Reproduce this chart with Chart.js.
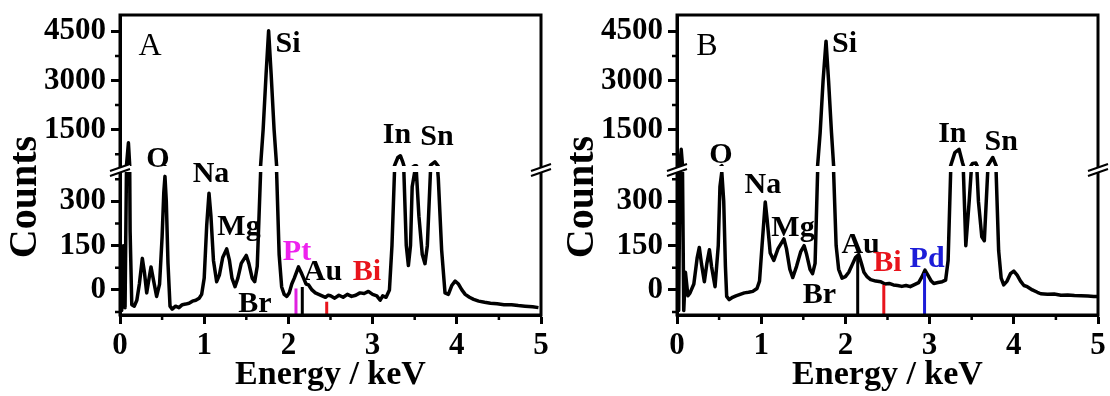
<!DOCTYPE html>
<html>
<head>
<meta charset="utf-8">
<script src="https://cdn.jsdelivr.net/npm/chart.js@4/dist/chart.umd.min.js"></script>
<style>
  html, body { margin: 0; padding: 0; background: #fff; overflow: hidden; }
  .panel { position: absolute; top: 0; width: 555px; height: 396px; }
  #panelA { left: 0; }
  #panelB { left: 557px; }
</style>
</head>
<body>
<div class="panel" id="panelA"><canvas id="canvasA"></canvas></div>
<div class="panel" id="panelB"><canvas id="canvasB"></canvas></div>
<script>
// spectrum A (keV, counts)
const energyA = [0.00,0.02,0.04,0.06,0.08,0.10,0.12,0.14,0.17,0.20,0.23,0.265,0.29,0.317,0.34,0.368,0.40,0.435,0.47,0.50,
  0.52,0.534,0.55,0.57,0.594,0.62,0.66,0.70,0.74,0.78,0.82,0.86,0.90,0.94,0.97,1.00,1.03,1.057,1.08,1.11,
  1.148,1.18,1.22,1.267,1.30,1.33,1.366,1.40,1.44,1.50,1.53,1.57,1.60,1.63,1.67,1.70,1.735,1.765,1.795,1.83,
  1.86,1.89,1.92,1.95,1.98,2.01,2.04,2.07,2.12,2.15,2.18,2.21,2.24,2.28,2.32,2.36,2.40,2.44,2.47,2.50,
  2.55,2.60,2.65,2.70,2.75,2.80,2.85,2.90,2.95,3.00,3.05,3.09,3.12,3.16,3.20,3.23,3.26,3.30,3.33,3.36,
  3.40,3.425,3.45,3.47,3.50,3.52,3.55,3.59,3.622,3.65,3.69,3.74,3.78,3.82,3.86,3.90,3.94,3.98,4.02,4.06,
  4.10,4.15,4.20,4.26,4.33,4.40,4.48,4.56,4.65,4.73,4.81,4.90,4.97];
const countsA = [60,-70,150,-60,500,1100,200,-50,-55,-35,20,107,60,-10,30,78,30,-22,20,180,
  330,385,300,90,-55,-65,-55,-60,-50,-48,-45,-38,-35,-28,-15,40,220,328,250,100,
  28,50,110,139,100,40,11,40,90,117,90,40,28,80,400,1500,3200,4520,3200,1500,
  400,120,10,-15,-22,-10,20,40,78,60,40,20,17,0,-10,-15,-20,-25,-18,-20,
  -28,-18,-25,-15,-22,-18,-10,-12,-5,-15,-20,-35,-20,-25,0,150,400,650,705,500,
  150,83,150,350,400,400,250,120,89,150,420,520,380,135,-10,-15,15,30,20,0,
  -15,-25,-32,-38,-42,-45,-47,-50,-50,-53,-55,-57,-60];

// spectrum B (keV, counts)
const energyB = [0.00,0.02,0.05,0.08,0.10,0.13,0.155,0.20,0.24,0.265,0.29,0.325,0.355,0.385,0.41,0.452,0.49,0.51,0.532,0.555,
  0.575,0.59,0.62,0.66,0.70,0.75,0.80,0.85,0.90,0.95,0.98,1.01,1.048,1.07,1.107,1.15,1.20,1.27,1.30,1.34,
  1.375,1.42,1.47,1.51,1.54,1.58,1.61,1.64,1.67,1.70,1.735,1.77,1.80,1.835,1.86,1.89,1.92,1.96,2.00,2.04,
  2.08,2.12,2.158,2.19,2.22,2.26,2.30,2.36,2.42,2.47,2.52,2.57,2.62,2.67,2.72,2.77,2.82,2.87,2.91,2.945,
  2.98,3.02,3.05,3.10,3.15,3.19,3.22,3.25,3.30,3.35,3.39,3.43,3.47,3.51,3.55,3.58,3.62,3.65,3.69,3.75,
  3.79,3.82,3.85,3.88,3.92,3.96,4.00,4.04,4.08,4.12,4.16,4.22,4.28,4.32,4.40,4.48,4.56,4.64,4.72,4.80,
  4.88,4.95,5.00];
const countsB = [150,-70,900,-70,60,-20,-10,20,110,144,90,28,90,136,80,11,150,350,400,300,
  80,-22,-33,-25,-20,-15,-10,-8,-5,5,30,150,298,240,125,100,140,173,140,70,
  42,80,130,150,120,70,55,90,400,1400,3000,4200,3000,1400,400,150,70,40,45,60,
  85,110,120,90,60,44,35,30,28,20,22,17,15,12,15,11,18,25,45,67,
  50,30,22,25,28,33,100,400,800,900,500,150,300,470,480,300,180,167,400,650,
  400,133,40,17,30,55,64,50,30,15,11,0,-8,-13,-15,-14,-18,-17,-19,-20,
  -21,-22,-22];

// axis ticks
const xTicks = [0, 1, 2, 3, 4, 5];
const xMinor = [0.5, 1.5, 2.5, 3.5, 4.5];
const lowTicks = [0, 150, 300];
const lowMinor = [-75, 75, 225, 375];
const highTicks = [1500, 3000, 4500];
const highMinor = [750, 2250, 3750];

// reference lines (keV, top in counts)
const markerEnergyA = [2.09, 2.165, 2.455];
const markerTopA = [5, 10, -40];
const markerColorA = ['#e020e0', '#000000', '#e8141c'];
const markerEnergyB = [2.146, 2.456, 2.94];
const markerTopB = [117, 17, 57];
const markerColorB = ['#000000', '#e8141c', '#1c1cd8'];

// element labels (text, keV, counts, axis, colour)
const labelTextA = ['Si', 'O', 'Na', 'Mg', 'Br', 'Pt', 'Au', 'Bi', 'In', 'Sn'];
const labelEnergyA = [1.995, 0.451, 1.081, 1.413, 1.603, 2.102, 2.411, 2.933, 3.29, 3.765];
const labelCountsA = [3870, 362, 366, 186, -75, 102, 34, 34, 1094, 1033];
const labelAxisA = ['yHigh', 'yHigh', 'yLow', 'yLow', 'yLow', 'yLow', 'yLow', 'yLow', 'yHigh', 'yHigh'];
const labelColorA = ['#000', '#000', '#000', '#000', '#000', '#ee22ee', '#000', '#e8141c', '#000', '#000'];

const labelTextB = ['Si', 'O', 'Na', 'Mg', 'Br', 'Au', 'Bi', 'Pd', 'In', 'Sn'];
const labelEnergyB = [1.99, 0.523, 1.02, 1.378, 1.69, 2.18, 2.5, 2.97, 3.27, 3.85];
const labelCountsB = [3870, 484, 329, 183, -44, 125, 64, 78, 1125, 880];
const labelAxisB = ['yHigh', 'yHigh', 'yLow', 'yLow', 'yLow', 'yLow', 'yLow', 'yLow', 'yHigh', 'yHigh'];
const labelColorB = ['#000', '#000', '#000', '#000', '#000', '#000', '#e8141c', '#1c1cd8', '#000', '#000'];

const LOW_MIN = -85, LOW_MAX = 410, HIGH_MIN = 300, HIGH_MAX = 5000;
const SERIF = '"Liberation Serif", "Times New Roman", serif';
const GAP = 3;

const breakPlugin = {
    id: 'breakAxis',
    beforeDatasetDraw(chart, args) {
        const {ctx, chartArea} = chart;
        const ys = args.meta.yScale;
        const top = ys.id === 'yLow' ? ys.top + GAP : ys.top - 2;
        const bottom = ys.id === 'yLow' ? ys.bottom + 2 : ys.bottom - GAP;
        ctx.save();
        ctx.beginPath();
        ctx.rect(chartArea.left, top, chartArea.right - chartArea.left, bottom - top);
        ctx.clip();
    },
    afterDatasetDraw(chart) {
        chart.ctx.restore();
    },
    afterDraw(chart, args, opts) {
        const {ctx, chartArea} = chart;
        const x = chart.scales.x, yLow = chart.scales.yLow, yHigh = chart.scales.yHigh;
        ctx.save();
        ctx.strokeStyle = '#000';
        ctx.lineWidth = 3;
        ctx.strokeRect(chartArea.left, chartArea.top, chartArea.right - chartArea.left, chartArea.bottom - chartArea.top);

        // minor ticks
        ctx.lineWidth = 2.5;
        ctx.beginPath();
        xMinor.forEach(v => {
            const px = x.getPixelForValue(v);
            ctx.moveTo(px, chartArea.bottom);
            ctx.lineTo(px, chartArea.bottom + 5);
        });
        lowMinor.forEach(v => {
            const py = yLow.getPixelForValue(v);
            ctx.moveTo(chartArea.left, py);
            ctx.lineTo(chartArea.left - 5, py);
        });
        highMinor.forEach(v => {
            const py = yHigh.getPixelForValue(v);
            ctx.moveTo(chartArea.left, py);
            ctx.lineTo(chartArea.left - 5, py);
        });
        ctx.stroke();

        // axis break marks
        const yb = yLow.top;
        [chartArea.left, chartArea.right].forEach(cx => {
            ctx.fillStyle = '#fff';
            ctx.beginPath();
            ctx.moveTo(cx - 10, yb + 2);
            ctx.lineTo(cx + 10, yb - 5);
            ctx.lineTo(cx + 10, yb);
            ctx.lineTo(cx - 10, yb + 7);
            ctx.closePath();
            ctx.fill();
            ctx.lineWidth = 2;
            ctx.beginPath();
            ctx.moveTo(cx - 10, yb + 2);
            ctx.lineTo(cx + 10, yb - 5);
            ctx.moveTo(cx - 10, yb + 7);
            ctx.lineTo(cx + 10, yb);
            ctx.stroke();
        });

        // element labels
        ctx.textAlign = 'center';
        ctx.textBaseline = 'alphabetic';
        ctx.font = 'bold 30px ' + SERIF;
        opts.text.forEach((t, i) => {
            const scale = chart.scales[opts.axis[i]];
            ctx.fillStyle = opts.color[i];
            ctx.fillText(t, x.getPixelForValue(opts.energy[i]), scale.getPixelForValue(opts.counts[i]));
        });

        // panel letter
        ctx.fillStyle = '#000';
        ctx.font = '32px ' + SERIF;
        ctx.fillText(opts.letter, x.getPixelForValue(0.356), yHigh.getPixelForValue(3780));

        // y title
        ctx.translate(26, 197);
        ctx.rotate(-Math.PI / 2);
        ctx.textBaseline = 'middle';
        ctx.font = 'bold 40px ' + SERIF;
        ctx.fillText('Counts', 0, 0);
        ctx.restore();
    }
};

class Spectrum {
    constructor(canvas, energy, counts, markers, labels) {
        this.$canvas = document.querySelector(canvas);
        this.energy = energy;
        this.counts = counts;
        this.markers = markers;
        this.labels = labels;
        this.draw();
    }
    points() {
        return this.energy.map((e, i) => ({x: e, y: this.counts[i]}));
    }
    datasets() {
        const line = {
            borderColor: '#000',
            borderWidth: 3.5,
            borderJoinStyle: 'round',
            pointRadius: 0,
            showLine: true,
            tension: 0,
            data: this.points()
        };
        const marks = this.markers.energy.map((e, i) => ({
            data: [{x: e, y: LOW_MIN}, {x: e, y: this.markers.top[i]}],
            borderColor: this.markers.color[i],
            borderWidth: 3,
            pointRadius: 0,
            showLine: true,
            yAxisID: 'yLow'
        }));
        return [
            ...marks,
            {...line, yAxisID: 'yLow'},
            {...line, yAxisID: 'yHigh'}
        ];
    }
    yScale(min, max, ticks, weight) {
        return {
            type: 'linear',
            position: 'left',
            stack: 'counts',
            stackWeight: weight,
            min,
            max,
            afterBuildTicks: s => { s.ticks = ticks.map(v => ({value: v})); },
            afterFit: s => { s.width = 120; s.paddingTop = 0; s.paddingBottom = 0; },
            ticks: {
                color: '#000',
                padding: 5,
                callback: v => String(v),
                font: {family: SERIF, size: 31, weight: 'bold'}
            },
            grid: {drawOnChartArea: false, drawTicks: true, tickLength: 9, tickWidth: 3, tickColor: '#000'},
            border: {display: true, color: '#000', width: 3}
        };
    }
    draw() {
        new Chart(this.$canvas, {
            type: 'scatter',
            data: {datasets: this.datasets()},
            options: {
                responsive: true,
                maintainAspectRatio: false,
                animation: false,
                layout: {padding: {top: 15, right: 14, bottom: 0, left: 0}},
                plugins: {
                    legend: {display: false},
                    tooltip: {enabled: false},
                    breakAxis: this.labels
                },
                scales: {
                    x: {
                        type: 'linear',
                        min: 0,
                        max: 5,
                        afterBuildTicks: s => { s.ticks = xTicks.map(v => ({value: v})); },
                        afterFit: s => { s.height = 81; s.paddingLeft = 0; s.paddingRight = 0; },
                        ticks: {
                            color: '#000',
                            padding: 3,
                            maxRotation: 0,
                            callback: v => String(v),
                            font: {family: SERIF, size: 31, weight: 'bold'}
                        },
                        grid: {drawOnChartArea: false, drawTicks: true, tickLength: 9, tickWidth: 3, tickColor: '#000'},
                        border: {display: true, color: '#000', width: 3},
                        title: {
                            display: true,
                            text: 'Energy / keV',
                            color: '#000',
                            padding: {top: 0, bottom: 0},
                            font: {family: SERIF, size: 34, weight: 'bold'}
                        }
                    },
                    yLow: this.yScale(LOW_MIN, LOW_MAX, lowTicks, 146),
                    yHigh: this.yScale(HIGH_MIN, HIGH_MAX, highTicks, 154)
                }
            },
            plugins: [breakPlugin]
        });
    }
}

window.addEventListener('load', () => {
    new Spectrum('#canvasA', energyA, countsA,
        {energy: markerEnergyA, top: markerTopA, color: markerColorA},
        {letter: 'A', text: labelTextA, energy: labelEnergyA, counts: labelCountsA, axis: labelAxisA, color: labelColorA});
    new Spectrum('#canvasB', energyB, countsB,
        {energy: markerEnergyB, top: markerTopB, color: markerColorB},
        {letter: 'B', text: labelTextB, energy: labelEnergyB, counts: labelCountsB, axis: labelAxisB, color: labelColorB});
});
</script>
</body>
</html>
